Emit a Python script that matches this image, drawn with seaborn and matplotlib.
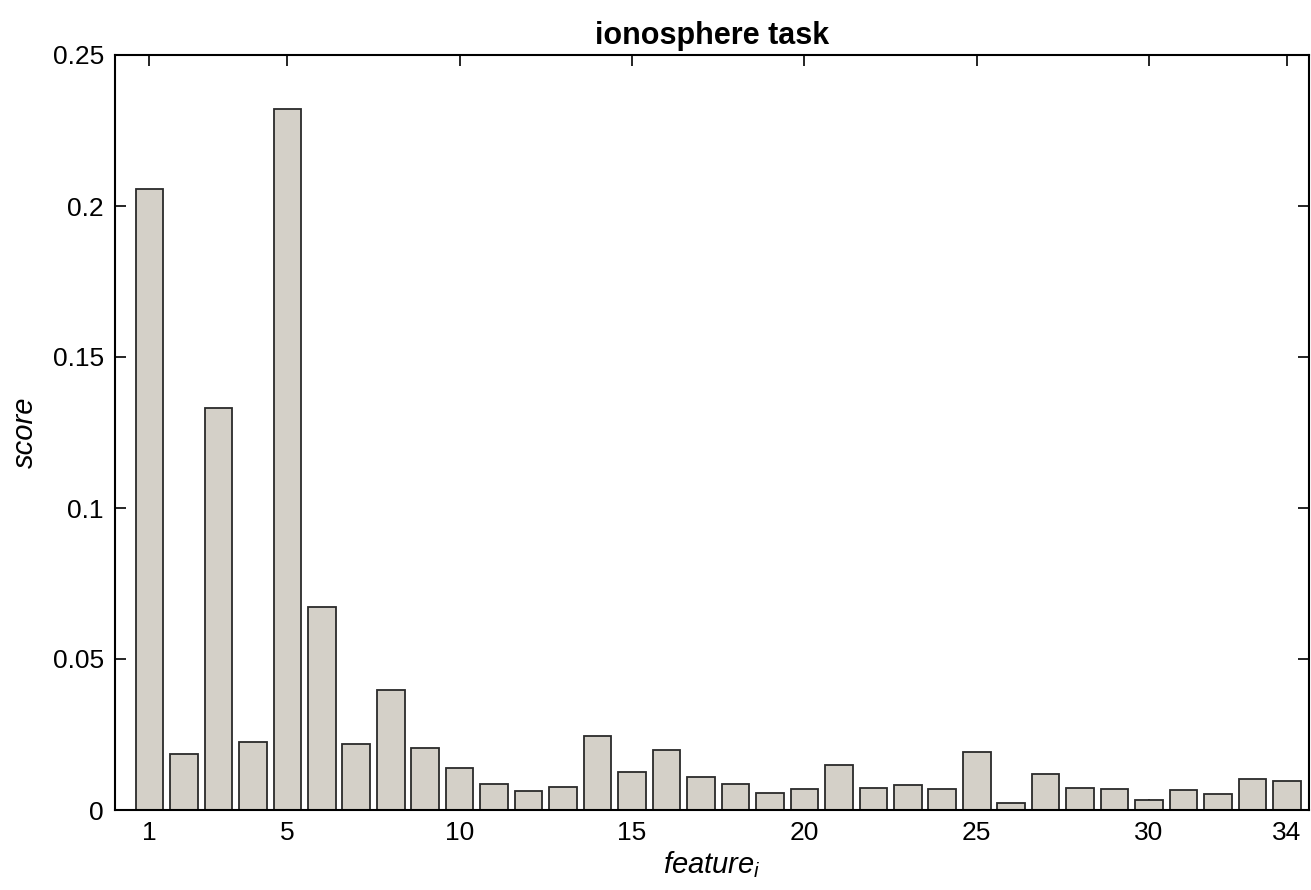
import matplotlib
matplotlib.use("Agg")
import matplotlib.pyplot as plt
import seaborn as sns
import pandas as pd
from matplotlib.ticker import FuncFormatter

features = list(range(1, 35))
scores = [0.2055, 0.0185, 0.1330, 0.0224, 0.2321, 0.0672, 0.0219, 0.0397, 0.0204, 0.0139,
          0.0087, 0.0062, 0.0076, 0.0246, 0.0126, 0.0199, 0.0110, 0.0087, 0.0056, 0.0070,
          0.0148, 0.0073, 0.0083, 0.0068, 0.0191, 0.0024, 0.0119, 0.0073, 0.0071, 0.0033,
          0.0066, 0.0053, 0.0103, 0.0097]
xtick_vals = [1, 5, 10, 15, 20, 25, 30, 34]
ytick_vals = [0, 0.05, 0.1, 0.15, 0.2, 0.25]
title = "ionosphere task"

df = pd.DataFrame({"feature": features, "score": scores})

sns.set_style("ticks")
plt.rcParams["font.family"] = ["Liberation Sans", "DejaVu Sans"]
plt.rcParams["mathtext.fontset"] = "custom"
plt.rcParams["mathtext.rm"] = "Liberation Sans"
plt.rcParams["mathtext.it"] = "Liberation Sans:italic"
plt.rcParams["text.color"] = "black"
plt.rcParams["axes.labelcolor"] = "black"

fig = plt.figure(figsize=(13.11, 8.90), dpi=100)
ax = fig.add_axes([115/1311, 1 - 810/890, (1309 - 115)/1311, (810 - 55)/890])

sns.barplot(data=df, x="feature", y="score", native_scale=True, color="#d4d0c8",
            saturation=1, edgecolor="#2a2a2a", linewidth=1.3, width=0.8, ax=ax, errorbar=None)
for p in ax.patches:
    p.set_facecolor("#d4d0c8")

ax.set_xlim(0, 34.64)
ax.set_ylim(0, 0.25)
ax.set_xticks(xtick_vals)
ax.set_yticks(ytick_vals)
ax.yaxis.set_major_formatter(FuncFormatter(lambda v, p: "%g" % v))
ax.tick_params(direction="in", length=8, width=1.2, top=True, right=True,
               labelsize=19, pad=8, colors="black")
for s in ax.spines.values():
    s.set_visible(True)
    s.set_linewidth(1.5)
    s.set_color("black")

ax.set_title(title, fontsize=22, fontweight="bold", pad=8, color="black")
ax.set_xlabel("feature$_i$", fontsize=21, fontstyle="italic", labelpad=3, color="black")
ax.set_ylabel("score", fontsize=21, fontstyle="italic", labelpad=10, color="black")

fig.savefig("out.png", dpi=100)
